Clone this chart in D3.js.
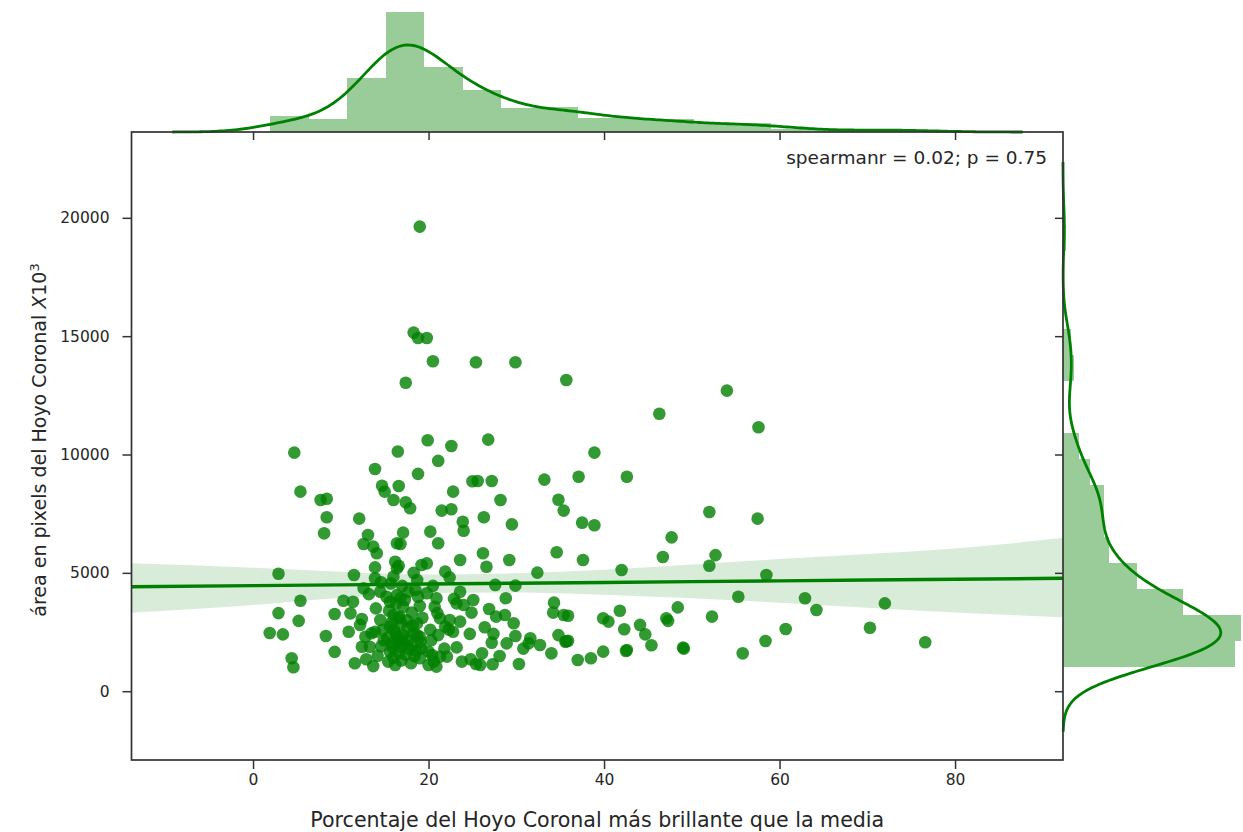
<!DOCTYPE html>
<html><head><meta charset="utf-8">
<script src="https://cdn.jsdelivr.net/npm/d3@7"></script>
<style>body{margin:0;background:#fff}svg{display:block}text{font-family:"DejaVu Sans",sans-serif;fill:#262626}</style>
</head><body>
<svg id="c" width="1243" height="832"></svg>
<script>
// ---------- data ----------
const xTicks = [0, 20, 40, 60, 80];
const yTicks = [0, 5000, 10000, 15000, 20000];
const xDomain = [-13.85, 92.3];
const yDomain = [-2907, 23626];

const pctX = [
 19.0,18.3,18.8,19.8,20.5,25.4,29.9,17.4,4.7,16.5,19.9,22.6,26.8,21.1,35.7,54.0,46.3,57.6,38.9,33.2,
 37.1,42.6,34.8,35.4,37.5,38.9,52.0,57.5,47.7,34.6,37.6,46.7,52.7,42.0,52.0,58.5,32.4,34.3,34.2,35.4,
 35.9,39.9,40.5,41.8,42.3,44.1,44.7,45.4,47.1,47.3,48.4,52.3,55.3,55.8,58.4,60.7,62.9,64.2,70.3,72.0,
 76.6,32.7,34.0,34.8,35.6,35.9,37.0,38.5,39.9,42.6,42.5,49.0,49.1,
 18.8,16.6,25.0,25.6,27.2,22.8,28.2,17.4,17.9,21.5,22.6,26.3,23.9,24.0,29.5,
 26.2,23.6,26.6,29.2,22.4,27.6,29.9,23.6,28.8,23.2,24.0,24.9,26.9,27.7,28.7,22.4,23.6,29.7,22.8,24.7,
 27.4,29.9,31.6,27.2,28.9,31.4,23.2,22.1,26.1,28.1,23.8,25.4,25.9,27.3,30.3,17.7,20.0,
 13.1,12.6,13.7,14.1,16.4,16.8,17.1,20.2,21.1,13.9,16.2,16.4,19.2,19.8,21.9,11.5,13.9,16.0,18.7,12.6,
 14.5,15.2,16.4,16.8,15.6,18.5,18.8,19.8,20.9,11.4,11.1,20.7,17.1,14.5,16.0,16.6,16.9,12.2,18.7,20.2,
 21.3,21.9,14.8,15.6,13.9,16.4,17.1,18.7,12.8,21.1,12.4,13.3,15.8,16.8,18.1,19.2,15.6,16.6,19.0,20.4,
 21.3,11.6,13.7,16.2,20.0,20.9,
 13.9,5.4,7.7,8.4,14.7,15.0,16.0,8.4,12.1,8.1,2.9,5.4,10.3,2.9,9.3,5.2,1.9,3.4,8.3,10.9,9.3,4.4,4.6,
 15.4,16.0,16.9,17.4,18.0,18.6,15.9,17.2,18.4,19.1,16.5,17.8,
 15.3,16.1,17.0,17.6,18.3,19.0,15.8,16.7,17.5,18.2,19.3,16.3,
 15.5,16.3,17.3,18.1,19.0,17.7,15.7,17.0,18.3,16.6,
 14.2,12.9,14.6,13.5,14.9,12.4,14.0,13.2,14.6,
 20.6,21.8,20.3,22.3,21.0,22.9,20.5,24.8,26.4,25.1,30.8,35.7
];
const areaY = [
 19630,15150,14920,14920,13940,13900,13900,13030,10080,10130,10600,10360,10630,9730,13150,12700,11720,11150,10080,8940,
 9060,9060,8090,7630,7120,7010,7570,7290,6500,5870,5540,5670,5750,5120,5300,4910,5010,3740,3320,3220,
 3190,3080,2940,3400,2620,2800,2400,1940,3080,2970,3540,3150,3990,1600,2120,2630,3930,3430,2680,3710,
 2070,1950,1600,2370,2090,2130,1320,1390,1670,1740,1700,1840,1800,
 9180,8670,8870,8880,8880,8430,8080,7980,7730,7630,7690,7350,7160,6780,7050,
 5830,5540,5260,5540,4810,4490,4460,4200,3930,3710,3640,3320,3470,3150,3220,3010,2940,2870,2510,2420,
 2420,2330,2240,2050,2020,2020,1850,1460,1600,1490,1250,1150,1110,1140,1150,2160,1670,
 6600,6220,6110,5830,6250,6220,6700,6740,6250,5230,5470,5190,5330,5400,5050,4910,4770,4840,4700,4350,
 4200,3990,4060,3930,3780,4280,3990,4140,3930,3780,3290,3570,3570,3010,3220,3080,2870,2800,2870,2590,
 3080,2730,2590,2730,2510,2300,2370,2370,2300,2370,1880,1880,2020,1880,1950,1810,1670,1600,1390,1530,
 1460,1180,1060,1110,1110,1040,
 9390,8430,8080,8130,8680,8430,8080,7350,7290,6670,4960,3820,3820,3300,3260,2970,2460,2400,2330,2510,1660,1390,1010,
 1250,1420,1300,1550,1180,1700,1850,1980,1480,2080,2100,1780,
 2250,2560,2200,2680,2450,2300,2900,3150,3000,2780,3100,2440,
 3400,3700,3850,3320,3600,4200,4550,4450,5000,5300,
 1500,1350,1900,2450,2150,3050,3500,4100,4600,
 1250,1800,2150,2600,3300,3900,4450,1350,2700,3850,1800,2110
];

// marginal histograms (bar counts)
const histXRange = [1.94, 76.6];
const histXCounts = [10, 8, 34, 76, 41, 27, 15, 16, 9, 9, 8, 5, 6, 2, 1, 2, 1];
const histYRange = [1010, 19700];
const histYCounts = [63, 65, 44, 27, 17, 15, 15, 10, 6, 0, 0, 4, 3, 0, 0, 0, 1];
const kdeBwX = 3.7;
const kdeBwY = 908;

// regression fit and confidence band
const regX  = [-13.85, 0, 10, 20, 30, 40, 50, 60, 70, 80, 92.3];
const regFit= [4415, 4461, 4494, 4528, 4561, 4595, 4628, 4662, 4695, 4729, 4770];
const regLo = [3315, 3640, 3950, 4150, 4170, 4080, 3930, 3740, 3530, 3330, 3122];
const regHi = [5405, 5220, 5050, 4930, 4980, 5130, 5350, 5580, 5800, 6030, 6480];

const annotation = "spearmanr = 0.02; p = 0.75";
const xLabel = "Porcentaje del Hoyo Coronal más brillante que la media";
const yLabel = "área en pixels del Hoyo Coronal ";

// ---------- layout ----------
const M = {l:131.5, r:1063, t:132, b:760};
const topMargTop = 6.4, rightMargRight = 1249.4;
const GREEN = "#008000", INK = "#262626";
const TICK_FS = 15.5;

const svg = d3.select("#c");
const x = d3.scaleLinear().domain(xDomain).range([M.l, M.r]);
const y = d3.scaleLinear().domain(yDomain).range([M.b, M.t]);

function kde(vals, bw, n){
  const lo = d3.min(vals) - 3*bw, hi = d3.max(vals) + 3*bw;
  const c = 1/(vals.length*bw*Math.sqrt(2*Math.PI));
  return d3.range(n+1).map(i=>{
    const g = lo + (hi-lo)*i/n; let s = 0;
    for(const v of vals){ const z=(g-v)/bw; s += Math.exp(-0.5*z*z); }
    return [g, s*c];
  });
}
function bins(range, counts){
  const w = (range[1]-range[0])/counts.length, N = d3.sum(counts);
  return counts.map((c,i)=>({a:range[0]+i*w, b:range[0]+(i+1)*w, d:c/(N*w)}));
}

// ---------- top marginal ----------
const bx = bins(histXRange, histXCounts);
const kx = kde(pctX, kdeBwX, 300);
const maxTop = Math.max(d3.max(bx, d=>d.d), d3.max(kx, d=>d[1]));
const hy = d3.scaleLinear().domain([0, maxTop*1.05]).range([M.t, topMargTop]);
svg.append("g").selectAll("rect").data(bx).join("rect")
  .attr("x", d=>x(d.a)).attr("width", d=>x(d.b)-x(d.a))
  .attr("y", d=>hy(d.d)).attr("height", d=>M.t-hy(d.d))
  .attr("fill", GREEN).attr("fill-opacity", 0.4).attr("shape-rendering","crispEdges");
svg.append("path").datum(kx)
  .attr("d", d3.line().x(d=>x(d[0])).y(d=>hy(d[1])))
  .attr("fill","none").attr("stroke",GREEN).attr("stroke-width",2.8);

// ---------- right marginal ----------
const by = bins(histYRange, histYCounts);
const ky = kde(areaY, kdeBwY, 300);
const maxRight = Math.max(d3.max(by, d=>d.d), d3.max(ky, d=>d[1]));
const vx = d3.scaleLinear().domain([0, maxRight*1.05]).range([M.r, rightMargRight]);
svg.append("g").selectAll("rect").data(by).join("rect")
  .attr("y", d=>y(d.b)).attr("height", d=>y(d.a)-y(d.b))
  .attr("x", M.r).attr("width", d=>vx(d.d)-M.r)
  .attr("fill", GREEN).attr("fill-opacity", 0.4).attr("shape-rendering","crispEdges");
svg.append("path").datum(ky)
  .attr("d", d3.line().x(d=>vx(d[1])).y(d=>y(d[0])))
  .attr("fill","none").attr("stroke",GREEN).attr("stroke-width",2.8);

// ---------- main joint plot ----------
svg.append("clipPath").attr("id","clipMain").append("rect")
  .attr("x",M.l).attr("y",M.t).attr("width",M.r-M.l).attr("height",M.b-M.t);
const gm = svg.append("g").attr("clip-path","url(#clipMain)");

gm.append("g").selectAll("circle").data(pctX.map((v,i)=>[v, areaY[i]])).join("circle")
  .attr("cx", d=>x(d[0])).attr("cy", d=>y(d[1])).attr("r", 6.3)
  .attr("fill", GREEN).attr("fill-opacity", 0.8);

const reg = regX.map((v,i)=>({x:v, f:regFit[i], lo:regLo[i], hi:regHi[i]}));
gm.append("path").datum(reg)
  .attr("d", d3.area().curve(d3.curveMonotoneX).x(d=>x(d.x)).y0(d=>y(d.lo)).y1(d=>y(d.hi)))
  .attr("fill", GREEN).attr("fill-opacity", 0.15);
gm.append("path").datum(reg)
  .attr("d", d3.line().x(d=>x(d.x)).y(d=>y(d.f)))
  .attr("fill","none").attr("stroke",GREEN).attr("stroke-width",3.4);

// spines
svg.append("rect").attr("x",M.l).attr("y",M.t).attr("width",M.r-M.l).attr("height",M.b-M.t)
  .attr("fill","none").attr("stroke","#333").attr("stroke-width",1.7);

// axes
function styleAxis(g){
  g.attr("font-size", TICK_FS).attr("font-family", "DejaVu Sans");
  g.select(".domain").remove();
  g.selectAll(".tick line").attr("stroke","#333").attr("stroke-width",1.5);
  g.selectAll(".tick text").attr("fill",INK).style("font-size", TICK_FS + "px");
}
svg.append("g").attr("transform",`translate(0,${M.b})`)
  .call(d3.axisBottom(x).tickValues(xTicks).tickSize(9).tickPadding(5).tickFormat(d3.format("d"))).call(styleAxis);
svg.append("g").attr("transform",`translate(${M.l},0)`)
  .call(d3.axisLeft(y).tickValues(yTicks).tickSize(9).tickPadding(13).tickFormat(d3.format("d"))).call(styleAxis);
// marginal ticks pointing into the joint plot
svg.append("g").attr("transform",`translate(0,${M.t})`)
  .call(d3.axisBottom(x).tickValues(xTicks).tickSize(8).tickFormat("")).call(styleAxis);
svg.append("g").attr("transform",`translate(${M.r},0)`)
  .call(d3.axisLeft(y).tickValues(yTicks).tickSize(8).tickFormat("")).call(styleAxis);

// labels
svg.append("text").attr("x",(M.l+M.r)/2).attr("y",827).attr("text-anchor","middle")
  .style("font-size","20.6px").text(xLabel);
const yl = svg.append("text").attr("transform",`translate(46,440) rotate(-90)`)
  .attr("text-anchor","middle").style("font-size","19px");
yl.append("tspan").text(yLabel);
yl.append("tspan").attr("font-style","italic").text("X");
yl.append("tspan").text("10");
yl.append("tspan").style("font-size","13px").attr("dy",-7).text("3");

svg.append("text").attr("x",1047).attr("y",164).attr("text-anchor","end")
  .style("font-size","18.5px").text(annotation);
</script>
</body></html>
